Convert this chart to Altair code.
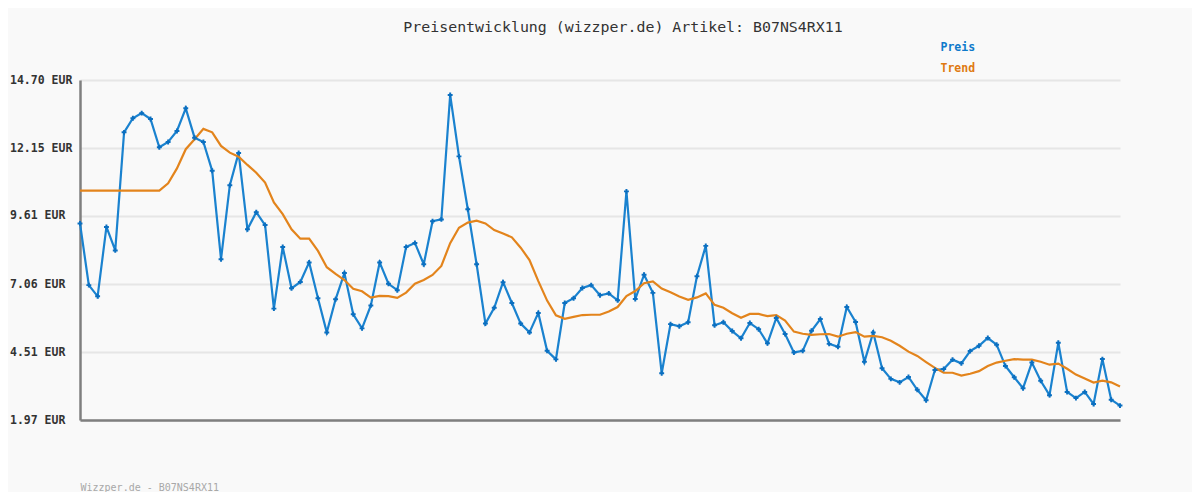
import altair as alt
import pandas as pd

price = [9.33, 7.02, 6.60, 9.20, 8.32, 12.74, 13.27, 13.46, 13.24, 12.18,
         12.38, 12.79, 13.64, 12.54, 12.38, 11.30, 7.99, 10.76, 11.97, 9.11,
         9.75, 9.27, 6.14, 8.45, 6.90, 7.14, 7.87, 6.53, 5.25, 6.49,
         7.47, 5.93, 5.40, 6.26, 7.87, 7.07, 6.83, 8.45, 8.60, 7.80,
         9.41, 9.48, 14.14, 11.84, 9.86, 7.80, 5.58, 6.17, 7.13, 6.35,
         5.58, 5.25, 5.98, 4.56, 4.24, 6.35, 6.53, 6.91, 7.02, 6.64,
         6.71, 6.45, 10.53, 6.50, 7.41, 6.73, 3.72, 5.56, 5.48, 5.63,
         7.35, 8.49, 5.52, 5.63, 5.30, 5.03, 5.60, 5.37, 4.84, 5.79,
         5.19, 4.50, 4.56, 5.31, 5.75, 4.82, 4.71, 6.20, 5.64, 4.15,
         5.25, 3.91, 3.51, 3.38, 3.58, 3.10, 2.71, 3.84, 3.88, 4.23,
         4.09, 4.55, 4.75, 5.04, 4.79, 3.99, 3.57, 3.16, 4.12, 3.44,
         2.90, 4.86, 3.02, 2.79, 3.02, 2.57, 4.25, 2.73, 2.51]

trend = [10.56, 10.56, 10.56, 10.56, 10.56, 10.56, 10.56, 10.56, 10.56, 10.56,
         10.83, 11.39, 12.11, 12.48, 12.87, 12.74, 12.23, 11.98, 11.83, 11.52,
         11.23, 10.86, 10.12, 9.68, 9.11, 8.76, 8.76, 8.30, 7.69, 7.44,
         7.21, 6.88, 6.79, 6.55, 6.62, 6.61, 6.54, 6.74, 7.07, 7.21,
         7.40, 7.74, 8.59, 9.17, 9.36, 9.43, 9.33, 9.08, 8.95, 8.81,
         8.42, 7.96, 7.17, 6.44, 5.89, 5.76, 5.83, 5.90, 5.91, 5.91,
         6.03, 6.20, 6.61, 6.80, 7.09, 7.16, 6.89, 6.75, 6.59, 6.47,
         6.56, 6.71, 6.28, 6.17, 5.97, 5.80, 5.94, 5.94, 5.86, 5.90,
         5.69, 5.28, 5.20, 5.16, 5.18, 5.19, 5.09, 5.20, 5.26, 5.09,
         5.12, 5.07, 4.94, 4.75, 4.53, 4.37, 4.14, 3.92, 3.74, 3.74,
         3.63, 3.70, 3.80, 3.99, 4.12, 4.19, 4.25, 4.23, 4.23, 4.15,
         4.04, 4.08, 3.89, 3.67, 3.52, 3.37, 3.44, 3.38, 3.22]

series_names = ["Preis", "Trend"]
series_colors = ["#1a82cf", "#e3841c"]
y_ticks = [1.97, 4.51, 7.06, 9.61, 12.15, 14.70]

title_text = "Preisentwicklung (wizzper.de) Artikel: B07NS4RX11"
footer_text = "Wizzper.de - B07NS4RX11"

n = len(price)
df = pd.DataFrame({
    "i": list(range(n)) * 2,
    "value": price + trend,
    "series": ["Preis"] * n + ["Trend"] * n,
})
df_price = df[df.series == "Preis"]

MONO = "DejaVu Sans Mono"

x_enc = alt.X("i:Q", scale=alt.Scale(domain=[0, n - 1], nice=False, zero=False),
              axis=alt.Axis(title=footer_text, labels=False, ticks=False, grid=False,
                            domain=True, domainColor="#7f7f7f", domainWidth=2.5,
                            titleFont=MONO, titleFontSize=10, titleFontWeight="normal",
                            titleColor="#a8a8a8", titleAnchor="start", titleAlign="left",
                            titleBaseline="middle", titleX=0, titleY=67))
y_enc = alt.Y("value:Q",
              scale=alt.Scale(domain=[y_ticks[0], y_ticks[-1]], nice=False, zero=False),
              axis=alt.Axis(title=None, values=y_ticks,
                            labelExpr="format(datum.value, '.2f') + ' EUR'",
                            labelFont=MONO, labelFontSize=11.5, labelFontWeight="bold",
                            labelColor="#333333", labelAlign="left", labelPadding=70.5,
                            ticks=False, domain=True, domainColor="#7f7f7f", domainWidth=2.5,
                            grid=True, gridColor="#e6e6e6", gridWidth=2))

color_enc = alt.Color("series:N",
                      scale=alt.Scale(domain=series_names, range=series_colors),
                      legend=alt.Legend(title=None, orient="none", legendX=849, legendY=-38,
                                        direction="vertical", symbolOpacity=0, symbolSize=0,
                                        symbolStrokeWidth=0, labelOffset=0,
                                        labelFont=MONO, labelFontSize=11.5, labelFontWeight="bold",
                                        labelColor={"expr": "datum.label == 'Preis' ? '#0f7acb' : '#df7a12'"},
                                        rowPadding=8))

lines = alt.Chart(df).mark_line(strokeWidth=2.2).encode(
    x=x_enc, y=y_enc, color=color_enc,
    order=alt.Order("series:N", sort="descending"),
    detail="series:N",
)

points = alt.Chart(df_price).mark_point(shape="cross", filled=True, size=24, opacity=1).encode(
    x=alt.X("i:Q"), y=alt.Y("value:Q"), color=alt.value("#0b6fc0"),
)

chart = alt.layer(lines, points).properties(
    width=1040, height=340,
    autosize=alt.AutoSizeParams(type="none"),
    padding={"left": 72, "top": 72, "right": 72, "bottom": 72},
    background="#f9f9f9",
    title=alt.TitleParams(title_text, font=MONO, fontSize=14.9, fontWeight="normal",
                          color="#333333", anchor="middle", dx=23, offset=-5,
                          baseline="alphabetic"),
).configure_view(stroke=None)

chart.save("out.html", embed_options={"renderer": "svg", "actions": False})
